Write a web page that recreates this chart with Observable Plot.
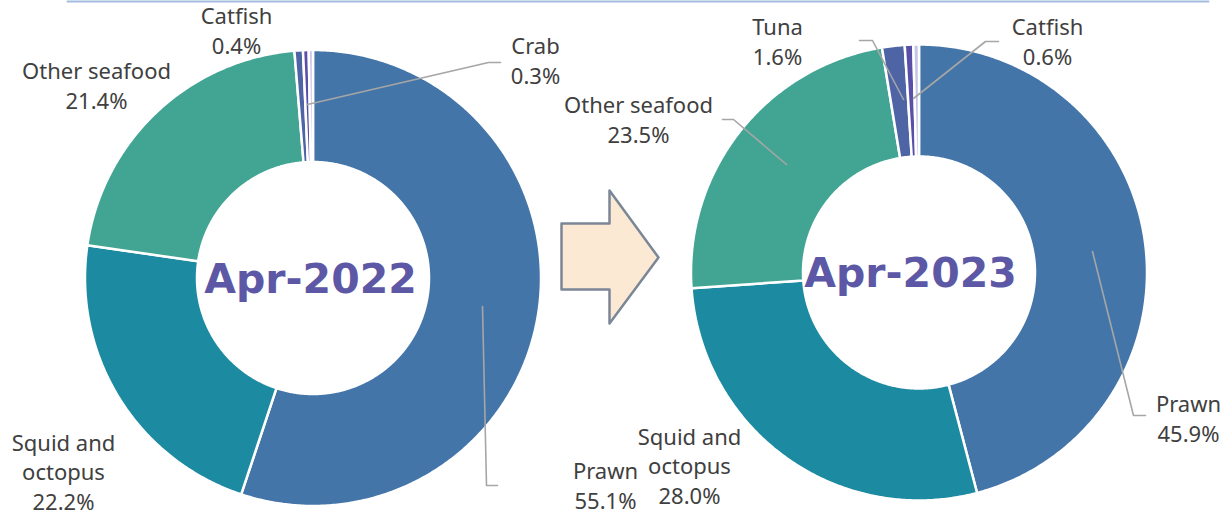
<!DOCTYPE html>
<html><head><meta charset="utf-8">
<script src="https://cdn.jsdelivr.net/npm/d3@7"></script>
<script src="https://cdn.jsdelivr.net/npm/@observablehq/plot@0.6"></script>
<style>body{margin:0;background:#fff;overflow:hidden}#chart{width:1226px;height:515px}</style>
</head><body><div id="chart"></div>
<script>
// ---- data ----
const categories = ["Prawn", "Squid and octopus", "Other seafood", "Tuna", "Catfish", "Crab"];
const values2022 = [55.1, 22.2, 21.4, 0.6, 0.4, 0.3];
const values2023 = [45.9, 28.0, 23.5, 1.6, 0.6, 0.4];
const periods = ["Apr-2022", "Apr-2023"];
const labelLines = {"Prawn": "Prawn", "Squid and octopus": "Squid and\noctopus", "Other seafood": "Other seafood", "Tuna": "Tuna", "Catfish": "Catfish", "Crab": "Crab"};
const shownLabels2022 = ["Prawn", "Squid and octopus", "Other seafood", "Catfish", "Crab"];
const shownLabels2023 = ["Prawn", "Squid and octopus", "Other seafood", "Tuna", "Catfish"];

// ---- styling / layout ----
const sliceColors = ["#4475a9", "#1c8aa1", "#42a593", "#4e64a5", "#5a4fa8", "#c3c6e8"];
const W = 1226, H = 515;
const font = "'Noto Sans', sans-serif";
const donuts = [
  {period: periods[0], values: values2022, shown: shownLabels2022, cx: 312.5, cy: 277.5, r0: 116, r1: 228, tx: 310, ty: 292,
   labelPos: {"Prawn": [605, 508], "Squid and octopus": [63, 509], "Other seafood": [96, 108], "Catfish": [236, 53], "Crab": [535, 83]},
   leaders: {"Prawn": [[482, 306], [486, 485], [497, 485]], "Crab": [[307, 104], [488, 62], [500, 62]]}},
  {period: periods[1], values: values2023, shown: shownLabels2023, cx: 918.5, cy: 272, r0: 116, r1: 228, tx: 910, ty: 286,
   labelPos: {"Prawn": [1188, 441], "Squid and octopus": [689, 503], "Other seafood": [638, 142], "Tuna": [777, 64], "Catfish": [1047, 64]},
   leaders: {"Prawn": [[1092, 251], [1133, 415], [1145, 415]], "Other seafood": [[722, 119], [733, 119], [786, 164]],
             "Tuna": [[859, 40], [872, 40], [903, 99]], "Catfish": [[913, 98], [985, 41], [998, 41]]}}
];
const arrowPts = [[561, 223], [609, 223], [609, 190], [658, 257], [609, 323], [609, 289], [561, 289]];

function slicePoints(a0, a1, d) {
  const n = Math.max(2, Math.ceil((a1 - a0) / (Math.PI / 360)));
  const pts = [];
  for (let i = 0; i <= n; i++) { const a = a0 + (a1 - a0) * i / n; pts.push({x: d.cx + d.r1 * Math.sin(a), y: d.cy - d.r1 * Math.cos(a)}); }
  for (let i = n; i >= 0; i--) { const a = a0 + (a1 - a0) * i / n; pts.push({x: d.cx + d.r0 * Math.sin(a), y: d.cy - d.r0 * Math.cos(a)}); }
  return pts;
}

const marks = [];
marks.push(Plot.line([{x: 67, y: 1}, {x: 1208, y: 1}], {x: "x", y: "y", stroke: "#a3bddf", strokeWidth: 2}));

for (const d of donuts) {
  const arcs = d3.pie().sort(null).value(v => v)(d.values);
  arcs.forEach((a, i) => {
    marks.push(Plot.line(slicePoints(a.startAngle, a.endAngle, d), {x: "x", y: "y", fill: sliceColors[i], stroke: "white", strokeWidth: 2.5, curve: "linear-closed"}));
  });
}
marks.push(Plot.line(arrowPts.map(([x, y]) => ({x, y})), {x: "x", y: "y", fill: "#fce9d3", stroke: "#7b8797", strokeWidth: 2.5, curve: "linear-closed"}));

for (const d of donuts) {
  for (const [cat, pts] of Object.entries(d.leaders)) {
    marks.push(Plot.line(pts.map(([x, y]) => ({x, y})), {x: "x", y: "y", stroke: "#a6a6a6", strokeWidth: 1.6}));
  }
  const labels = d.shown.map(cat => {
    const i = categories.indexOf(cat);
    return {x: d.labelPos[cat][0], y: d.labelPos[cat][1], text: labelLines[cat] + "\n" + d.values[i].toFixed(1) + "%"};
  });
  marks.push(Plot.text(labels, {x: "x", y: "y", text: "text", textAnchor: "middle", lineAnchor: "bottom", lineHeight: 1.32, fontSize: 22, fontFamily: font, fill: "#404040"}));
  marks.push(Plot.text([{x: d.tx, y: d.ty, text: d.period}], {x: "x", y: "y", text: "text", textAnchor: "middle", lineAnchor: "bottom", fontSize: 41, fontWeight: "bold", fontFamily: "'DejaVu Sans', sans-serif", fill: "#5d58a5"}));
}

const chart = Plot.plot({
  width: W, height: H, margin: 0,
  x: {domain: [0, W], axis: null},
  y: {domain: [H, 0], axis: null},
  style: {background: "white", overflow: "visible"},
  marks
});
document.getElementById("chart").append(chart);
</script></body></html>
